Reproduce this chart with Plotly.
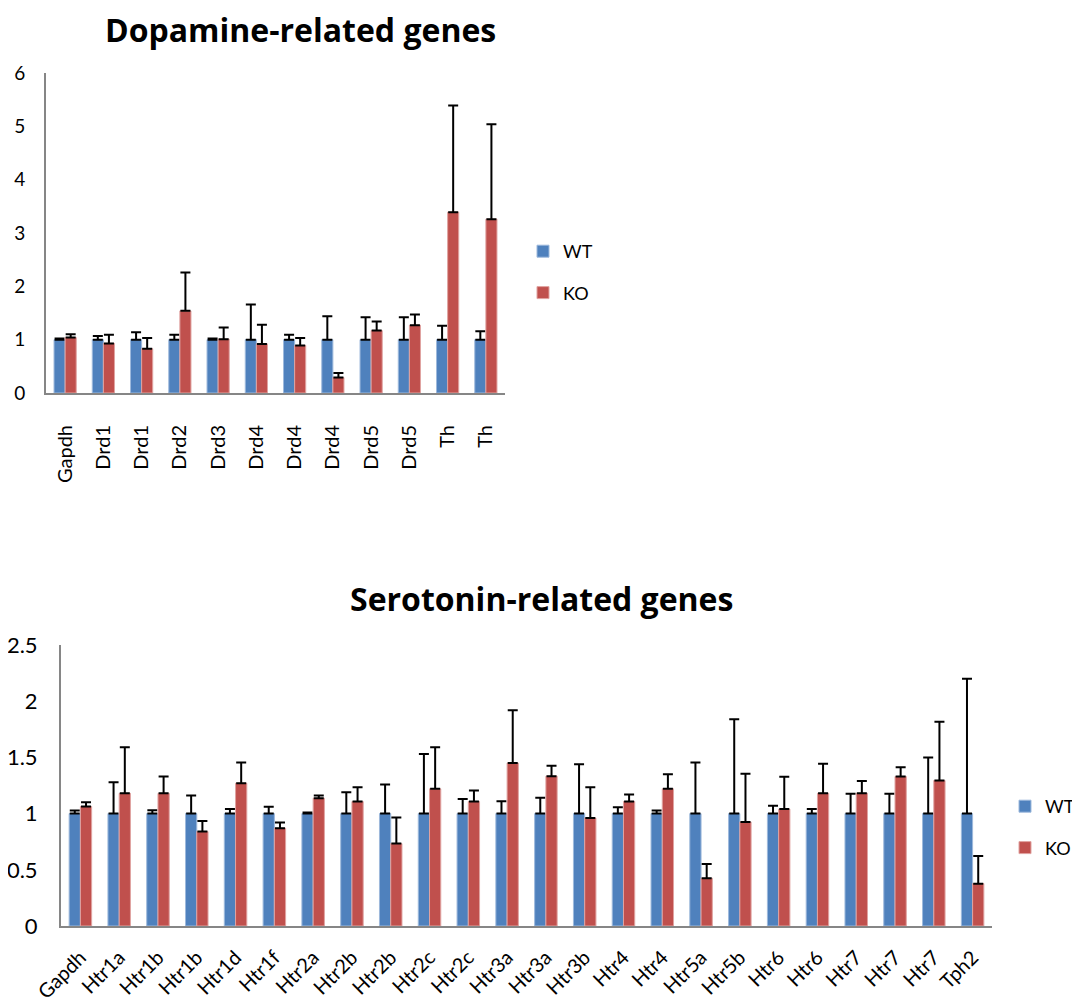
import plotly.graph_objects as go

# Dopamine-related genes
cats_da = ["Gapdh", "Drd1", "Drd1", "Drd2", "Drd3", "Drd4", "Drd4", "Drd4", "Drd5", "Drd5", "Th", "Th"]
wt_da = [1, 1, 1, 1, 1, 1, 1, 1, 1, 1, 1, 1]
wt_err_da = [0.02, 0.07, 0.14, 0.09, 0.02, 0.66, 0.09, 0.44, 0.42, 0.42, 0.26, 0.16]
ko_da = [1.04, 0.93, 0.83, 1.54, 1.01, 0.92, 0.89, 0.29, 1.17, 1.27, 3.39, 3.26]
ko_err_da = [0.06, 0.16, 0.20, 0.72, 0.22, 0.36, 0.14, 0.085, 0.17, 0.20, 2.00, 1.78]
yticks_da = [0, 1, 2, 3, 4, 5, 6]

# Serotonin-related genes
cats_5ht = ["Gapdh", "Htr1a", "Htr1b", "Htr1b", "Htr1d", "Htr1f", "Htr2a", "Htr2b", "Htr2b",
            "Htr2c", "Htr2c", "Htr3a", "Htr3a", "Htr3b", "Htr4", "Htr4", "Htr5a", "Htr5b",
            "Htr6", "Htr6", "Htr7", "Htr7", "Htr7", "Tph2"]
wt_5ht = [1, 1, 1, 1, 1, 1, 1, 1, 1, 1, 1, 1, 1, 1, 1, 1, 1, 1, 1, 1, 1, 1, 1, 1]
wt_err_5ht = [0.027, 0.28, 0.03, 0.16, 0.04, 0.06, 0.01, 0.19, 0.26, 0.53, 0.13, 0.11,
              0.14, 0.44, 0.057, 0.027, 0.455, 0.84, 0.07, 0.04, 0.176, 0.176, 0.50, 1.20]
ko_5ht = [1.063, 1.18, 1.18, 0.84, 1.27, 0.87, 1.137, 1.107, 0.733, 1.22, 1.107, 1.45,
          1.333, 0.96, 1.107, 1.22, 0.425, 0.926, 1.04, 1.18, 1.18, 1.33, 1.295, 0.377]
ko_err_5ht = [0.037, 0.41, 0.15, 0.095, 0.185, 0.05, 0.023, 0.128, 0.232, 0.37, 0.098, 0.47,
              0.092, 0.275, 0.063, 0.13, 0.127, 0.428, 0.287, 0.263, 0.11, 0.083, 0.522, 0.246]
yticks_5ht = [0, 0.5, 1, 1.5, 2, 2.5]
yticklabels_5ht = ["0", "0.5", "1", "1.5", "2", "2.5"]

BLUE = "#4F81BD"
RED = "#C0504D"
FONT = "Lato"
TFONT = "Open Sans"
OFF = 8  # page body margin
W, H = 1080 - OFF, 1005 - OFF


def fx(px):
    return (px - OFF) / W


def fy(py):
    return 1 - (py - OFF) / H


x_da = list(range(len(cats_da)))
x_5ht = list(range(len(cats_5ht)))


def err(arr):
    return dict(type="data", array=arr, arrayminus=[0] * len(arr), symmetric=False,
                color="black", thickness=2, width=5)


fig = go.Figure()
fig.add_trace(go.Bar(x=x_da, y=wt_da, name="WT", marker=dict(color=BLUE, line=dict(color="#9DB9DC", width=1)),
                     error_y=err(wt_err_da), xaxis="x", yaxis="y", legend="legend", legendgroup="a"))
fig.add_trace(go.Bar(x=x_da, y=ko_da, name="KO", marker=dict(color=RED, line=dict(color="#E0A3A1", width=1)),
                     error_y=err(ko_err_da), xaxis="x", yaxis="y", legend="legend", legendgroup="b"))
fig.add_trace(go.Bar(x=x_5ht, y=wt_5ht, name="WT", marker=dict(color=BLUE, line=dict(color="#9DB9DC", width=1)),
                     error_y=err(wt_err_5ht), xaxis="x2", yaxis="y2", legend="legend2", legendgroup="c"))
fig.add_trace(go.Bar(x=x_5ht, y=ko_5ht, name="KO", marker=dict(color=RED, line=dict(color="#E0A3A1", width=1)),
                     error_y=err(ko_err_5ht), xaxis="x2", yaxis="y2", legend="legend2", legendgroup="d"))

axis_line = dict(showline=True, linecolor="#868686", linewidth=2, showgrid=False, zeroline=False,
                 ticks="", automargin=False)

fig.update_layout(
    width=W, height=H,
    margin=dict(l=0, r=0, t=0, b=0, autoexpand=False),
    paper_bgcolor="white", plot_bgcolor="white",
    barmode="group", bargap=0.42, bargroupgap=0,
    font=dict(family=FONT, size=18, color="black"),
    xaxis=dict(domain=[fx(46), fx(505)], anchor="y", range=[-0.5, len(cats_da) - 0.5],
               tickmode="array", tickvals=x_da, ticktext=cats_da, tickangle=-90,
               ticklabelstandoff=22, tickfont=dict(family=FONT, size=20, color="black"), **axis_line),
    yaxis=dict(domain=[fy(393), fy(73)], anchor="x", range=[0, 6],
               tickmode="array", tickvals=yticks_da, ticklabelstandoff=15,
               tickfont=dict(family=FONT, size=19, color="black"), **axis_line),
    xaxis2=dict(domain=[fx(61), fx(992)], anchor="y2", range=[-0.5, len(cats_5ht) - 0.5],
                tickmode="array", tickvals=x_5ht, ticktext=cats_5ht, tickangle=-45,
                ticklabelstandoff=10, tickfont=dict(family=FONT, size=20, color="black"), **axis_line),
    yaxis2=dict(domain=[fy(926), fy(645)], anchor="x2", range=[0, 2.5],
                tickmode="array", tickvals=yticks_5ht, ticktext=yticklabels_5ht,
                ticklabelstandoff=17, tickfont=dict(family=FONT, size=22, color="black"), **axis_line),
    legend=dict(x=fx(523), y=fy(233), xanchor="left", yanchor="top", traceorder="grouped",
                tracegroupgap=15, font=dict(family=FONT, size=18), bgcolor="rgba(0,0,0,0)"),
    legend2=dict(x=fx(1005), y=fy(788), xanchor="left", yanchor="top", traceorder="grouped",
                 tracegroupgap=15, font=dict(family=FONT, size=18), bgcolor="rgba(0,0,0,0)"),
    annotations=[
        dict(text="<b>Dopamine-related genes</b>", x=fx(300), y=fy(29), xref="paper", yref="paper",
             showarrow=False, font=dict(family=TFONT, size=32, color="black"), xanchor="center", yanchor="middle"),
        dict(text="<b>Serotonin-related genes</b>", x=fx(541), y=fy(598), xref="paper", yref="paper",
             showarrow=False, font=dict(family=TFONT, size=32, color="black"), xanchor="center", yanchor="middle"),
    ],
)

fig.write_html("out.html")
